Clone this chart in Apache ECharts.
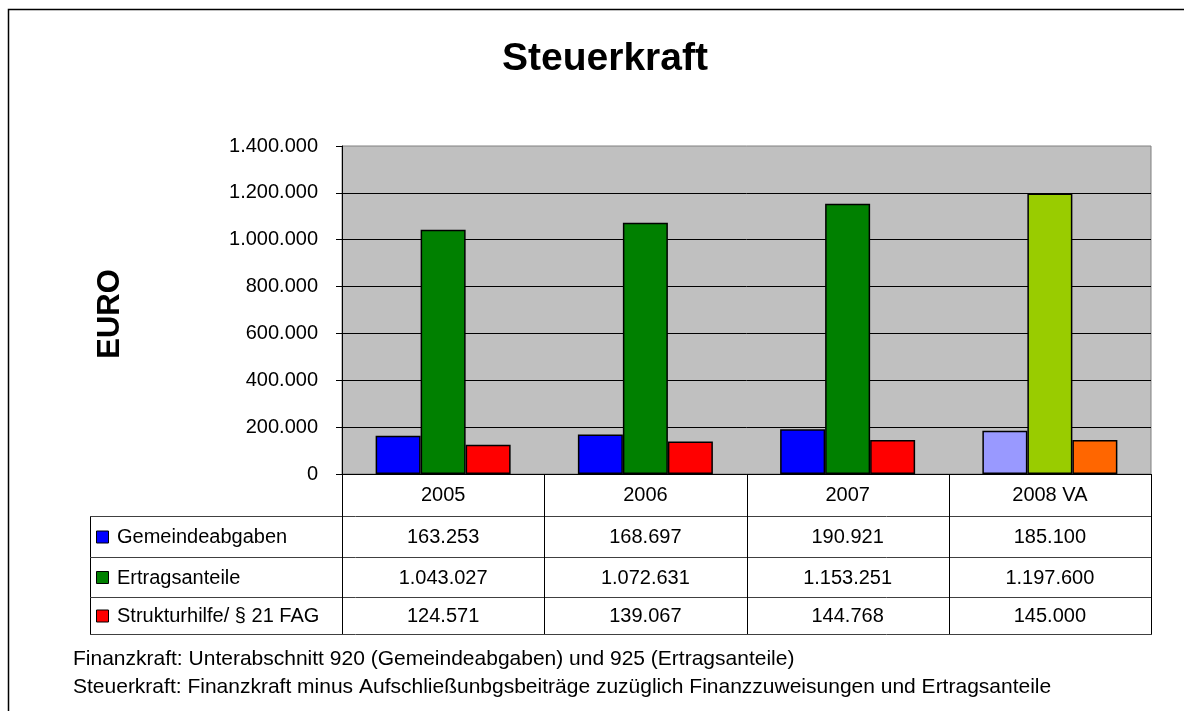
<!DOCTYPE html>
<html>
<head>
<meta charset="utf-8">
<script src="https://cdn.jsdelivr.net/npm/echarts@6/dist/echarts.min.js"></script>
<style>
  html, body { margin: 0; padding: 0; background: #fff; }
  #chart { width: 1184px; height: 711px; }
</style>
</head>
<body>
<div id="chart"></div>
<script>
const categories = ['2005', '2006', '2007', '2008 VA'];
const seriesNames = ['Gemeindeabgaben', 'Ertragsanteile', 'Strukturhilfe/ § 21 FAG'];
const gemeindeabgaben = [163253, 168697, 190921, 185100];
const ertragsanteile = [1043027, 1072631, 1153251, 1197600];
const strukturhilfe = [124571, 139067, 144768, 145000];
const footnotes = [
  'Finanzkraft: Unterabschnitt 920 (Gemeindeabgaben) und 925 (Ertragsanteile)',
  'Steuerkraft: Finanzkraft minus Aufschließunbgsbeiträge zuzüglich Finanzzuweisungen und Ertragsanteile'
];

const FONT = '"Liberation Sans", Arial, sans-serif';
const colors = ['#0000FF', '#008000', '#FF0000'];
// the 2008 budget (VA) column is drawn in lighter colours
const colorsVA = ['#9999FF', '#99CC00', '#FF6600'];
const allValues = [gemeindeabgaben, ertragsanteile, strukturhilfe];

function fmt(v) {
  return String(v).replace(/\B(?=(\d{3})+(?!\d))/g, '.');
}

const chart = echarts.init(document.getElementById('chart'));

// plot/table geometry
const gridLeft = 342, gridRight = 1151, gridTop = 146, gridBottom = 474;
const colW = (gridRight - gridLeft) / categories.length;
const rowLines = [516, 557, 597, 634];
const tableLeft = 90;

const graphic = [];
// outer frame (cut off at the right and bottom)
graphic.push({ type: 'polyline', shape: { points: [[8.5, 720], [8.5, 9.5], [1200, 9.5]] },
  style: { stroke: '#000', lineWidth: 1.5, fill: null }, silent: true });
// EURO label
graphic.push({ type: 'text', x: 110, y: 314, rotation: Math.PI / 2,
  style: { text: 'EURO', font: 'bold 31px ' + FONT, fill: '#000', align: 'center', verticalAlign: 'middle' } });
// table lines
for (let i = 0; i <= categories.length; i++) {
  const x = Math.round(gridLeft + colW * i) + 0.5;
  graphic.push({ type: 'line', shape: { x1: x, y1: gridBottom, x2: x, y2: rowLines[3] },
    style: { stroke: '#000', lineWidth: 1 }, z: 10 });
}
graphic.push({ type: 'line', shape: { x1: tableLeft + 0.5, y1: rowLines[0], x2: tableLeft + 0.5, y2: rowLines[3] },
  style: { stroke: '#000', lineWidth: 1 } });
rowLines.forEach(function (y) {
  graphic.push({ type: 'line', shape: { x1: tableLeft, y1: y + 0.5, x2: gridRight + 1, y2: y + 0.5 },
    style: { stroke: '#404040', lineWidth: 1 } });
});
// table rows: legend key, name, values
seriesNames.forEach(function (name, r) {
  const cy = (rowLines[r] + rowLines[r + 1]) / 2 + 1;
  graphic.push({ type: 'rect', shape: { x: 96.5, y: cy - 6.5, width: 12, height: 12 },
    style: { fill: colors[r], stroke: '#000', lineWidth: 1 } });
  graphic.push({ type: 'text', x: 117, y: cy,
    style: { text: name, font: '20px ' + FONT, fill: '#000', align: 'left', verticalAlign: 'middle' } });
  allValues[r].forEach(function (v, c) {
    graphic.push({ type: 'text', x: gridLeft + colW * (c + 0.5), y: cy,
      style: { text: fmt(v), font: '20px ' + FONT, fill: '#000', align: 'center', verticalAlign: 'middle' } });
  });
});
// footnotes
footnotes.forEach(function (t, i) {
  graphic.push({ type: 'text', x: 73, y: 659 + i * 28,
    style: { text: t, font: '21px ' + FONT, fill: '#000', align: 'left', verticalAlign: 'middle' } });
});

function makeSeries(idx) {
  return {
    name: seriesNames[idx],
    type: 'bar',
    barWidth: 45,
    barGap: '0%',
    data: allValues[idx].map(function (v, c) {
      return c === 3 ? { value: v, itemStyle: { color: colorsVA[idx] } } : v;
    }),
    itemStyle: { color: colors[idx], borderColor: '#000', borderWidth: 1.5 },
    emphasis: { disabled: true }
  };
}

const option = {
  animation: false,
  backgroundColor: '#fff',
  textStyle: { fontFamily: FONT },
  title: {
    text: 'Steuerkraft',
    left: 600,
    top: 35,
    textAlign: 'center',
    textStyle: { fontSize: 39, fontWeight: 'bold', color: '#000', fontFamily: FONT }
  },
  grid: {
    left: gridLeft,
    right: 1184 - gridRight,
    top: gridTop,
    bottom: 711 - gridBottom,
    show: true,
    backgroundColor: '#C0C0C0',
    borderColor: '#808080',
    borderWidth: 1
  },
  xAxis: {
    type: 'category',
    data: categories,
    axisLine: { lineStyle: { color: '#000', width: 1 } },
    axisTick: { show: false },
    axisLabel: { fontSize: 20, color: '#000', margin: 11, fontFamily: FONT },
    splitLine: { show: false }
  },
  yAxis: {
    type: 'value',
    min: 0,
    max: 1400000,
    interval: 200000,
    axisLine: { show: true, lineStyle: { color: '#000', width: 1 } },
    axisTick: { show: true, length: 6, lineStyle: { color: '#000' } },
    axisLabel: { fontSize: 20, color: '#000', margin: 24, fontFamily: FONT, formatter: fmt },
    splitLine: { show: true, showMaxLine: false, lineStyle: { color: '#000', width: 1 } }
  },
  series: [makeSeries(0), makeSeries(1), makeSeries(2)],
  graphic: graphic
};

chart.setOption(option);
</script>
</body>
</html>
